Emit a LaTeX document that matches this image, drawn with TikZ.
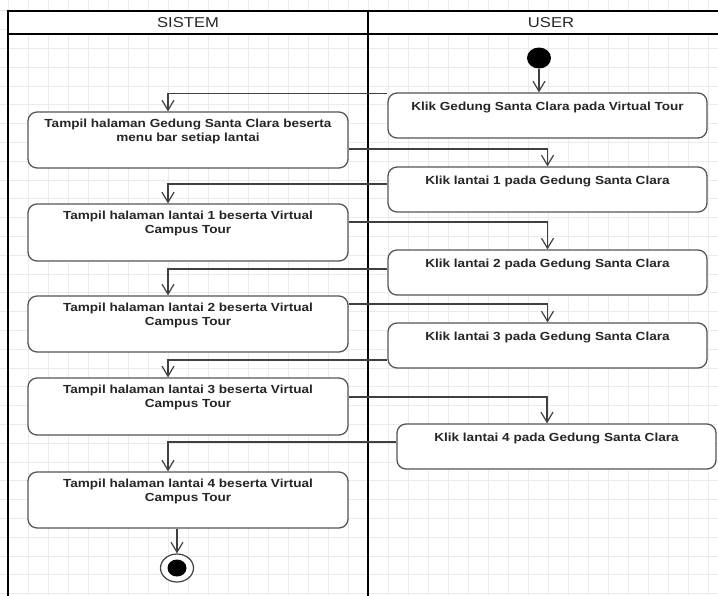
\documentclass[tikz,border=0pt]{standalone}
\usepackage{fontspec}
\setmainfont{Liberation Sans}[FakeStretch=1.16]
\usetikzlibrary{arrows.meta,calc,shapes.geometric}
\definecolor{gridc}{HTML}{EBEBEB}
\definecolor{boxc}{HTML}{555555}
\definecolor{flowc}{HTML}{404040}
\definecolor{txtc}{HTML}{262626}

\begin{document}
\begin{tikzpicture}[x=1pt,y=-1pt,
  act/.style={draw=boxc, line width=1.3pt, rounded corners=9pt, fill=white,
              inner sep=0pt, minimum width=320pt},
  acttxt/.style={font=\fontsize{11.7}{13.5}\selectfont\bfseries, text=txtc,
                 align=center, inner sep=0pt, anchor=north},
  lanetxt/.style={font=\fontsize{14.3}{16}\selectfont, text=txtc, inner sep=0pt},
  flow/.style={draw=flowc, line width=1.2pt,
               -{Straight Barb[length=10pt,width=12pt,line width=1.2pt]}},
  lane/.style={draw=black, line width=2.4pt},
  startnode/.style={ellipse, fill=black, minimum width=24pt, minimum height=21pt, inner sep=0pt},
  endnode/.style={ellipse, draw=flowc, line width=1.2pt, fill=white,
                  minimum width=33pt, minimum height=28pt, inner sep=0pt},
]
\useasboundingbox (0,0) rectangle (718,595);
\clip (0,0) rectangle (718,595);

% background grid
\foreach \i in {0,...,36}
  \draw[gridc, line width=0.8pt] (8+20*\i,0) -- (8+20*\i,595);
\foreach \j in {0,...,32}
  \draw[gridc, line width=0.8pt] (0,10.7+18.8*\j) -- (718,10.7+18.8*\j);

% swimlanes
\fill[white] (8,10.7) rectangle (734,34);
\draw[lane] (8,620) -- (8,10.7) -- (734,10.7);
\draw[lane] (8,34) -- (734,34);
\draw[lane] (368,10.7) -- (368,620);
\node[lanetxt] (hsys) at (188,22.5) {SISTEM};
\node[lanetxt] (husr) at (551,22.5) {USER};

% system lane activities
\node[act, minimum height=56pt] (s0) at (188,140) {};
\node[act, minimum height=57pt] (s1) at (188,232.5) {};
\node[act, minimum height=56pt] (s2) at (188,324) {};
\node[act, minimum height=57pt] (s3) at (188,406.5) {};
\node[act, minimum height=56pt] (s4) at (188,500) {};

\node[acttxt] (s0t) at ([yshift=-7.5pt]s0.north) {Tampil halaman Gedung Santa Clara beserta\\menu bar setiap lantai};
\node[acttxt] (s1t) at ([yshift=-7.5pt]s1.north) {Tampil halaman lantai 1 beserta Virtual\\Campus Tour};
\node[acttxt] (s2t) at ([yshift=-7.5pt]s2.north) {Tampil halaman lantai 2 beserta Virtual\\Campus Tour};
\node[acttxt] (s3t) at ([yshift=-7.5pt]s3.north) {Tampil halaman lantai 3 beserta Virtual\\Campus Tour};
\node[acttxt] (s4t) at ([yshift=-7.5pt]s4.north) {Tampil halaman lantai 4 beserta Virtual\\Campus Tour};

% user lane activities
\node[act, minimum width=319pt, minimum height=45pt] (u0) at (547.5,115.5) {};
\node[act, minimum width=319pt, minimum height=45pt] (u1) at (547.5,189.5) {};
\node[act, minimum width=319pt, minimum height=45pt] (u2) at (547.5,272.5) {};
\node[act, minimum width=319pt, minimum height=45pt] (u3) at (547.5,345.5) {};
\node[act, minimum width=319pt, minimum height=45pt] (u4) at (556.5,446.5) {};

\node[acttxt] (u0t) at ([yshift=-9pt]u0.north) {Klik Gedung Santa Clara pada Virtual Tour};
\node[acttxt] (u1t) at ([yshift=-9pt]u1.north) {Klik lantai 1 pada Gedung Santa Clara};
\node[acttxt] (u2t) at ([yshift=-9pt]u2.north) {Klik lantai 2 pada Gedung Santa Clara};
\node[acttxt] (u3t) at ([yshift=-9pt]u3.north) {Klik lantai 3 pada Gedung Santa Clara};
\node[acttxt] (u4t) at ([yshift=-9pt]u4.north) {Klik lantai 4 pada Gedung Santa Clara};

% initial and final states
\node[startnode] (start) at (539,58) {};
\node[endnode] (endn) at (177,568) {};
\fill[black] (endn.center) ellipse [x radius=9.5pt, y radius=8.5pt];

% control flow
\draw[flow] (start.south) -- (start.south |- u0.north);
\draw[flow] ([yshift=-1pt]u0.north west) -| ([xshift=-20pt]s0.north);
\draw[flow] ([yshift=-9pt]s0.east) -| (u1.north);
\draw[flow] ([yshift=5.5pt]u1.west) -| ([xshift=-20pt]s1.north);
\draw[flow] ([yshift=10.5pt]s1.east) -| (u2.north);
\draw[flow] ([yshift=3.5pt]u2.west) -| ([xshift=-20pt]s2.north);
\draw[flow] ([yshift=20pt]s2.east) -| (u3.north);
\draw[flow] ([yshift=-14.5pt]u3.west) -| ([xshift=-20pt]s3.north);
\draw[flow] ([yshift=9.5pt]s3.east) -| ([xshift=-9.5pt]u4.north);
\draw[flow] ([yshift=4.5pt]u4.west) -| ([xshift=-20pt]s4.north);
\draw[flow] ([xshift=-11pt]s4.south) -- (endn.north);
\end{tikzpicture}
\end{document}
